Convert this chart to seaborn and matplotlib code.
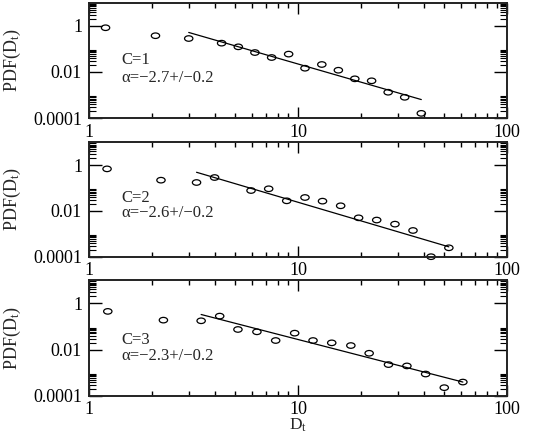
import numpy as np
import matplotlib
matplotlib.use("Agg")
import matplotlib.pyplot as plt
from matplotlib.path import Path
from matplotlib.transforms import Affine2D
from matplotlib.ticker import FixedLocator, FixedFormatter, NullFormatter
import seaborn as sns

# ---- data ----
x_c1 = [1.20, 2.08, 3.00, 4.31, 5.18, 6.22, 7.48, 9.02, 10.8, 13.0, 15.6, 18.7, 22.5, 27.0, 32.4, 38.9]
y_c1 = [0.82, 0.37, 0.28, 0.176, 0.122, 0.069, 0.042, 0.059, 0.0144, 0.0209, 0.0118, 0.0050,
        0.0041, 0.00131, 0.00079, 0.000159]
fit_x_c1 = [3.0, 38.9]
fit_y_c1 = [0.513, 0.00063]

x_c2 = [1.22, 2.21, 3.27, 3.99, 5.96, 7.24, 8.83, 10.8, 13.1, 16.0, 19.5, 23.8, 29.1, 35.5, 43.3, 52.7]
y_c2 = [0.69, 0.221, 0.175, 0.289, 0.078, 0.093, 0.0277, 0.0387, 0.0268, 0.0168, 0.0050, 0.0040,
        0.00265, 0.0014, 0.0001, 0.000245]
fit_x_c2 = [3.27, 52.7]
fit_y_c2 = [0.49, 0.00027]

x_c3 = [1.23, 2.27, 3.44, 4.22, 5.16, 6.36, 7.82, 9.64, 11.8, 14.5, 17.9, 21.9, 27.1, 33.2, 40.8, 50.1, 61.5]
y_c3 = [0.45, 0.188, 0.176, 0.281, 0.074, 0.0586, 0.0246, 0.0513, 0.0246, 0.0195, 0.0149, 0.0069,
        0.00223, 0.00195, 0.00087, 0.000223, 0.00039]
fit_x_c3 = [3.44, 61.5]
fit_y_c3 = [0.33, 0.00039]

panel_labels = ["C=1", "C=2", "C=3"]
alpha_labels = ["\u03b1=\u22122.7+/\u22120.2", "\u03b1=\u22122.6+/\u22120.2", "\u03b1=\u22122.3+/\u22120.2"]

x_major = [1, 10, 100]
x_major_labels = ["1", "10", "100"]
y_major = [1e-4, 1e-2, 1]
y_major_labels = ["0.0001", "0.01", "1"]

# ---- style ----
sns.set_style("ticks")
plt.rcParams['font.family'] = ['Liberation Serif', 'DejaVu Serif']
plt.rcParams['mathtext.fontset'] = 'custom'
plt.rcParams['mathtext.rm'] = 'Liberation Serif'
plt.rcParams['mathtext.it'] = 'Liberation Serif:italic'

fig = plt.figure(figsize=(5.45, 4.36), dpi=100)

W, H = 545.0, 436.0
left, right = 89.0, 507.0
panel_px = [(2.7, 118.0), (142.3, 256.7), (280.3, 395.7)]
text_pos = [(0.465, 0.315), (0.482, 0.344), (0.448, 0.309)]

ellipse = Path.unit_circle().transformed(Affine2D().scale(1.0, 0.66))

datasets = [(x_c1, y_c1, fit_x_c1, fit_y_c1),
            (x_c2, y_c2, fit_x_c2, fit_y_c2),
            (x_c3, y_c3, fit_x_c3, fit_y_c3)]

minor_x = [m * d for d in (1, 10) for m in range(2, 10)]
minor_y = [m * d for d in (1e-4, 1e-2, 1) for m in range(2, 10)]

for i, ((xs, ys, fx, fy), (top, bot)) in enumerate(zip(datasets, panel_px)):
    ax = fig.add_axes([left / W, 1 - bot / H, (right - left) / W, (bot - top) / H])
    ax.set_xscale('log')
    ax.set_yscale('log')
    sns.lineplot(x=fx, y=fy, ax=ax, color='black', linewidth=0.9)
    sns.scatterplot(x=xs, y=ys, ax=ax, marker=ellipse, s=36, linewidth=0.9)
    for coll in ax.collections:
        coll.set_facecolor('none')
        coll.set_edgecolor('black')
        coll.set_clip_on(False)
    ax.set_xlim(1, 100)
    ax.set_ylim(1e-4, 10)

    ax.xaxis.set_major_locator(FixedLocator(x_major))
    ax.xaxis.set_major_formatter(FixedFormatter(x_major_labels))
    ax.xaxis.set_minor_locator(FixedLocator(minor_x))
    ax.xaxis.set_minor_formatter(NullFormatter())
    ax.yaxis.set_major_locator(FixedLocator(y_major))
    ax.yaxis.set_major_formatter(FixedFormatter(y_major_labels))
    ax.yaxis.set_minor_locator(FixedLocator(minor_y))
    ax.yaxis.set_minor_formatter(NullFormatter())

    ax.tick_params(axis='both', which='both', direction='in', top=True, right=True,
                   colors='black', labelsize=13)
    ax.tick_params(axis='x', which='major', length=7.7, width=1.0, pad=4)
    ax.tick_params(axis='x', which='minor', length=3.6, width=1.0)
    ax.tick_params(axis='y', which='major', length=9.5, width=1.0, pad=5)
    ax.tick_params(axis='y', which='minor', length=4.8, width=0.8)
    for sp in ax.spines.values():
        sp.set_linewidth(1.4)
        sp.set_color('#222222')

    ax.set_ylabel(r"PDF(D$_\mathrm{t}$)", fontsize=13)
    ax.yaxis.set_label_coords(-0.158, 0.5)
    if i == 2:
        ax.set_xlabel(r"D$_\mathrm{t}$", fontsize=12.5, labelpad=-1)
    else:
        ax.set_xlabel("")

    ty1, ty2 = text_pos[i]
    ax.text(0.077, ty1, panel_labels[i], transform=ax.transAxes, fontsize=12,
            va='baseline', ha='left')
    ax.text(0.077, ty2, alpha_labels[i], transform=ax.transAxes, fontsize=12,
            va='baseline', ha='left')

fig.savefig("out.png", dpi=100)
